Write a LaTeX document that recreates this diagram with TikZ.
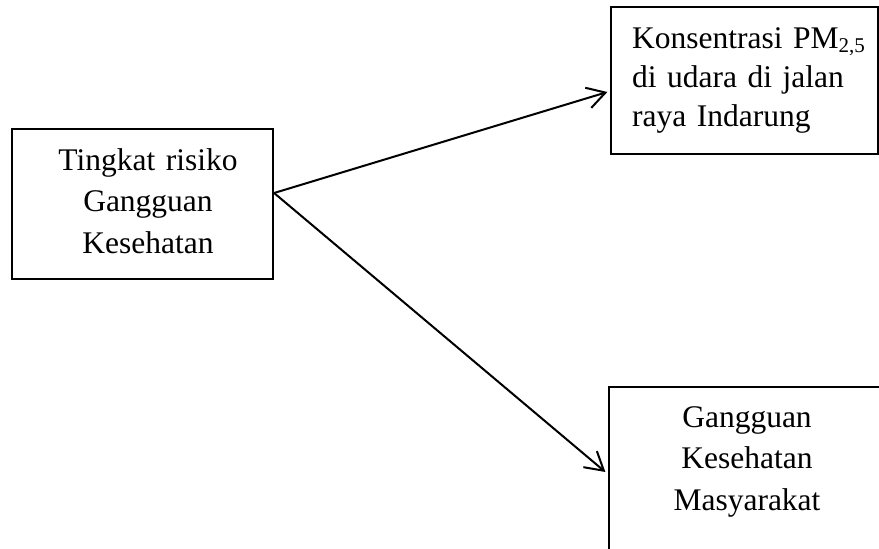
\documentclass[tikz,border=0pt]{standalone}
\usepackage{fontspec}
\setmainfont{Liberation Serif}
\usetikzlibrary{arrows.meta,calc}
\begin{document}
\begin{tikzpicture}[x=1pt,y=-1pt,
  box/.style={draw, line width=2.2pt, inner sep=0pt, rectangle},
  txt/.style={font=\fontsize{31.5}{41.5}\selectfont, inner sep=0pt, text width=250pt},
  arr/.style={line width=2pt, -{Straight Barb[length=18pt,width=21pt,line width=2pt]}}]
\useasboundingbox (0,0) rectangle (879,549);
\clip (0,0) rectangle (879,549);
\fill[white] (0,0) rectangle (879,549);
% boxes
\node[box, minimum width=261pt, minimum height=150pt] (L) at (142.5,204) {};
\node[box, minimum width=267pt, minimum height=147pt] (K) at (744.5,80.5) {};
\node[box, minimum width=291pt, minimum height=213pt] (G) at (754.5,493.5) {};
% texts
\node[txt, align=center, anchor=base] (Lt) at (148,170) {Tingkat risiko\\Gangguan\\Kesehatan};
\node[txt, align=left, anchor=base west, font=\fontsize{31.5}{39}\selectfont] (Kt) at (632,48)
  {Konsentrasi PM\raisebox{-4pt}{\fontsize{21}{21}\selectfont 2,5}\\di udara di jalan\\raya Indarung};
\node[txt, align=center, anchor=base] (Gt) at (747,427) {Gangguan\\Kesehatan\\Masyarakat};
% connectors
\coordinate (s) at ($(L.east)+(0,-11)$);
\draw[arr] (s) -- ($(K.west)+(-2.5,11.5)$);
\draw[arr] (s) -- ($(G.west)+(-2.5,-21.5)$);
\end{tikzpicture}
\end{document}
